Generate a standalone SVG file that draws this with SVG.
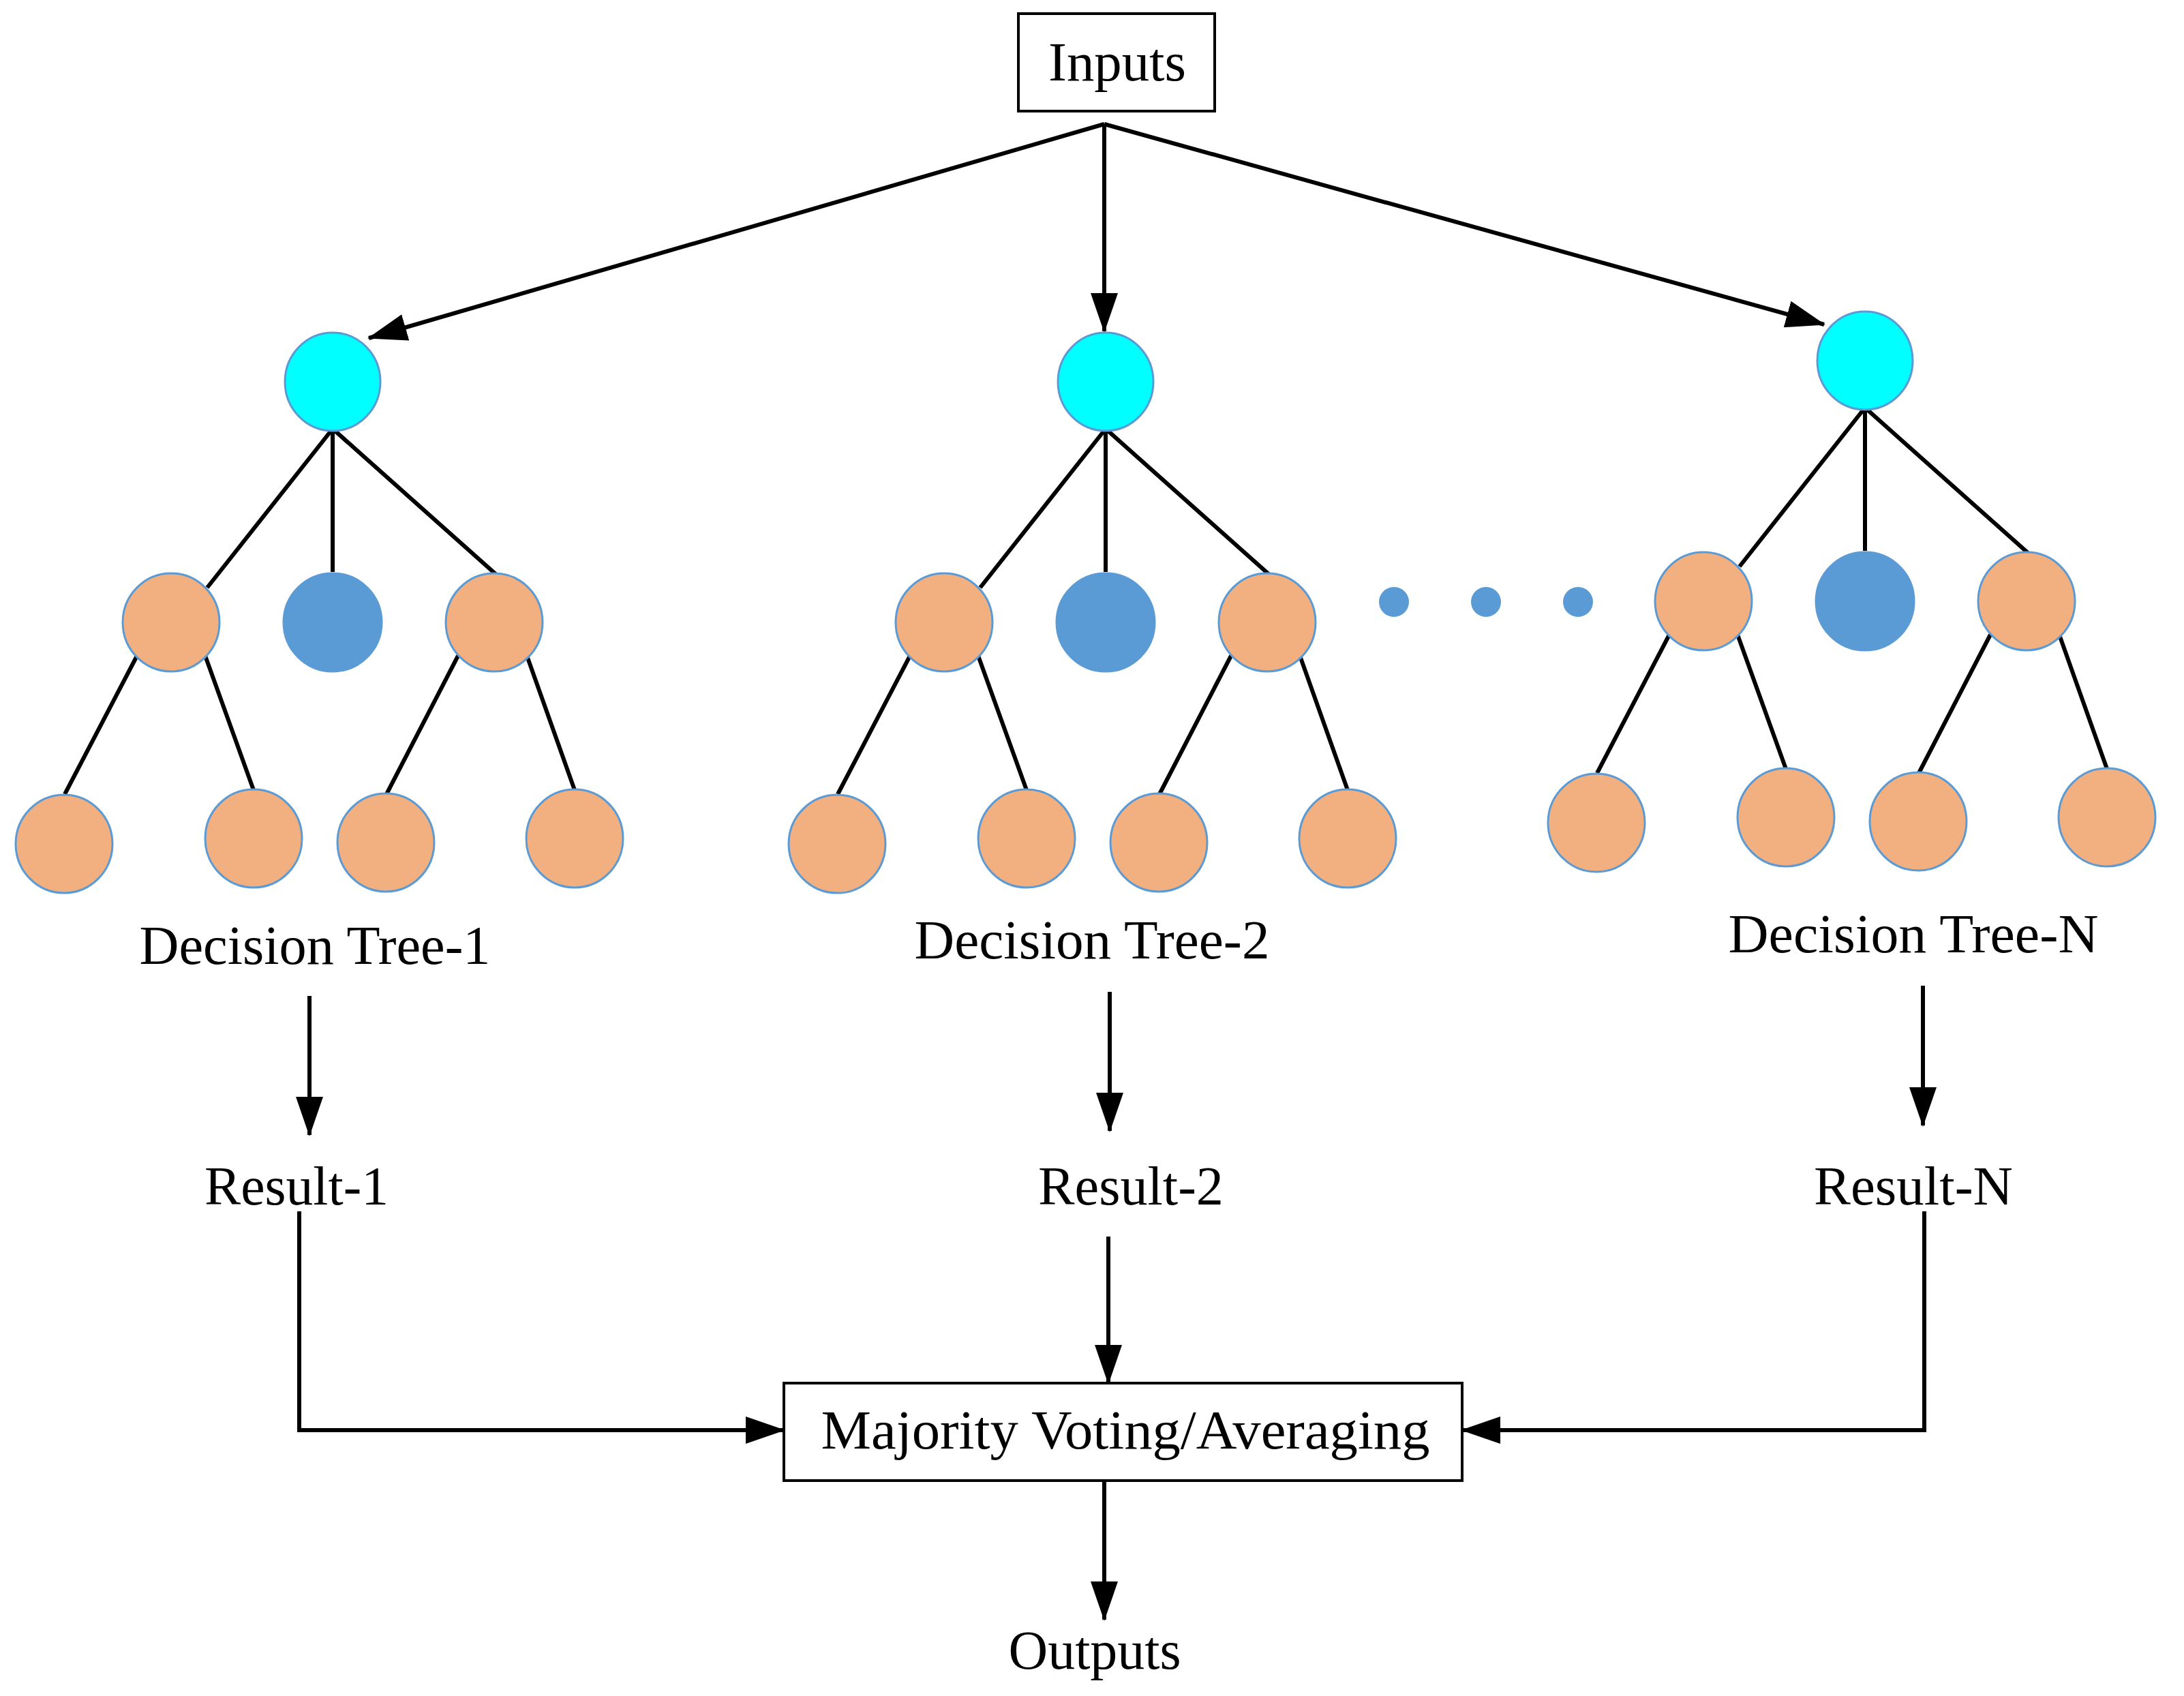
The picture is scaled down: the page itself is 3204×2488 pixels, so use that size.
<svg xmlns="http://www.w3.org/2000/svg" width="3204" height="2488" viewBox="0 0 3204 2488">
<style>
text{font-family:"Liberation Serif","Times New Roman",serif;font-size:80px;fill:#000;text-anchor:middle}
.c{stroke:#5B9BD5;stroke-width:3}
.cy{fill:#00FFFF}.or{fill:#F2AF80}.bl{fill:#5B9BD5}
.e{stroke:#000;stroke-width:6;fill:none}
.a{stroke:#000;stroke-width:6;fill:none;marker-end:url(#ah)}
.box{fill:#fff;stroke:#000;stroke-width:4}
</style>
<defs>
<marker id="ah" markerUnits="userSpaceOnUse" markerWidth="58" markerHeight="40" refX="56" refY="20" orient="auto"><path d="M0,0 L58,20 L0,40 z" fill="#000"/></marker>
</defs>
<g id="connectors">
<path class="a" d="M1620,182 L541,496"/>
<path class="a" d="M1620,182 L1620,486"/>
<path class="a" d="M1620,182 L2676,476"/>
<g id="tree1-edges">
<path class="e" d="M488,629 L304,862 M488,629 L488,839 M488,629 L727,842 M201,962 L95,1165 M301,962 L372,1159 M672,962 L567,1165 M773,962 L843,1159"/>
</g>
<g id="tree2-edges" transform="translate(1134,0)">
<path class="e" d="M488,629 L304,862 M488,629 L488,839 M488,629 L727,842 M201,962 L95,1165 M301,962 L372,1159 M672,962 L567,1165 M773,962 L843,1159"/>
</g>
<g id="treeN-edges" transform="translate(2248,-31)">
<path class="e" d="M488,629 L304,862 M488,629 L488,839 M488,629 L727,842 M201,962 L95,1165 M301,962 L372,1159 M672,962 L567,1165 M773,962 L843,1159"/>
</g>
<path class="a" d="M454,1461 L454,1665"/>
<path class="a" d="M1628,1455 L1628,1659"/>
<path class="a" d="M2821,1446 L2821,1651"/>
<path class="a" d="M439,1777 L439,2098 L1150,2098"/>
<path class="a" d="M1626,1814 L1626,2029"/>
<path class="a" d="M2823,1777 L2823,2098 L2145,2098"/>
<path class="a" d="M1620,2172 L1620,2376"/>
</g>
<g id="inputs"><rect class="box" x="1494" y="20" width="288" height="143"/><text x="1639" y="118" textLength="202" lengthAdjust="spacingAndGlyphs">Inputs</text></g>
<g id="tree1">
<ellipse class="c cy" cx="488" cy="560" rx="70" ry="72"/>
<ellipse class="c or" cx="251" cy="913" rx="71" ry="72"/>
<ellipse class="c bl" cx="488" cy="913" rx="72" ry="72"/>
<ellipse class="c or" cx="725" cy="913" rx="71" ry="72"/>
<ellipse class="c or" cx="94" cy="1238" rx="71" ry="72"/>
<ellipse class="c or" cx="372" cy="1230" rx="71" ry="72"/>
<ellipse class="c or" cx="566" cy="1236" rx="71" ry="72"/>
<ellipse class="c or" cx="843" cy="1230" rx="71" ry="72"/>
<text x="462" y="1414" textLength="515" lengthAdjust="spacingAndGlyphs">Decision Tree-1</text>
</g>
<g id="tree2" transform="translate(1134,0)">
<ellipse class="c cy" cx="488" cy="560" rx="70" ry="72"/>
<ellipse class="c or" cx="251" cy="913" rx="71" ry="72"/>
<ellipse class="c bl" cx="488" cy="913" rx="72" ry="72"/>
<ellipse class="c or" cx="725" cy="913" rx="71" ry="72"/>
<ellipse class="c or" cx="94" cy="1238" rx="71" ry="72"/>
<ellipse class="c or" cx="372" cy="1230" rx="71" ry="72"/>
<ellipse class="c or" cx="566" cy="1236" rx="71" ry="72"/>
<ellipse class="c or" cx="843" cy="1230" rx="71" ry="72"/>
</g>
<g id="tree2-label"><text x="1602" y="1406" textLength="521" lengthAdjust="spacingAndGlyphs">Decision Tree-2</text></g>
<g id="treeN" transform="translate(2248,-31)">
<ellipse class="c cy" cx="488" cy="560" rx="70" ry="72"/>
<ellipse class="c or" cx="251" cy="913" rx="71" ry="72"/>
<ellipse class="c bl" cx="488" cy="913" rx="72" ry="72"/>
<ellipse class="c or" cx="725" cy="913" rx="71" ry="72"/>
<ellipse class="c or" cx="94" cy="1238" rx="71" ry="72"/>
<ellipse class="c or" cx="372" cy="1230" rx="71" ry="72"/>
<ellipse class="c or" cx="566" cy="1236" rx="71" ry="72"/>
<ellipse class="c or" cx="843" cy="1230" rx="71" ry="72"/>
</g>
<g id="treeN-label"><text x="2807" y="1397" textLength="543" lengthAdjust="spacingAndGlyphs">Decision Tree-N</text></g>
<g id="dots"><circle class="bl" cx="2045" cy="883" r="22"/><circle class="bl" cx="2180" cy="883" r="22"/><circle class="bl" cx="2315" cy="883" r="22"/></g>
<g id="result1"><text x="435" y="1767" textLength="270" lengthAdjust="spacingAndGlyphs">Result-1</text></g>
<g id="result2"><text x="1659" y="1767" textLength="272" lengthAdjust="spacingAndGlyphs">Result-2</text></g>
<g id="resultN"><text x="2807" y="1767" textLength="292" lengthAdjust="spacingAndGlyphs">Result-N</text></g>
<g id="majority"><rect class="box" x="1150" y="2029" width="995" height="143"/><text x="1651" y="2125" textLength="893" lengthAdjust="spacingAndGlyphs">Majority Voting/Averaging</text></g>
<g id="outputs"><text x="1606" y="2448" textLength="253" lengthAdjust="spacingAndGlyphs">Outputs</text></g>
</svg>
